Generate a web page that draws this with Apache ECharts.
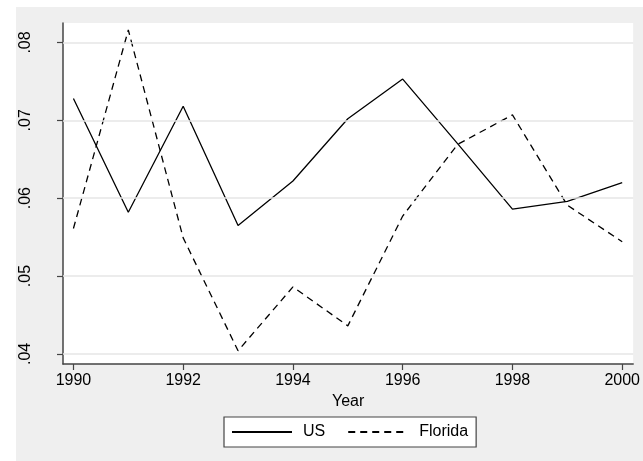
<!DOCTYPE html>
<html>
<head>
<meta charset="utf-8">
<script src="https://cdn.jsdelivr.net/npm/echarts@6/dist/echarts.min.js"></script>
<style>
  html, body { margin: 0; padding: 0; background: #fff; }
  #chart { width: 643px; height: 461px; }
</style>
</head>
<body>
<div id="chart"></div>
<script>
// Annual rates, 1990-2000
const years = [1990, 1991, 1992, 1993, 1994, 1995, 1996, 1997, 1998, 1999, 2000];
const usRate = [0.0728, 0.0582, 0.0718, 0.0565, 0.0622, 0.0702, 0.0753, 0.0670, 0.0586, 0.0596, 0.0620];
const floridaRate = [0.0561, 0.0816, 0.0549, 0.0404, 0.0486, 0.0436, 0.0577, 0.0669, 0.0707, 0.0591, 0.0544];
const xTicks = [1990, 1992, 1994, 1996, 1998, 2000];
const yTicks = [0.04, 0.05, 0.06, 0.07, 0.08];

const FONT = '"Liberation Sans", Arial, sans-serif';
const pairs = (ys) => years.map((y, i) => [y, ys[i]]);

const chart = echarts.init(document.getElementById('chart'), null, { renderer: 'canvas' });

chart.setOption({
  animation: false,
  backgroundColor: '#ffffff',
  textStyle: { fontFamily: FONT },
  graphic: [{
    type: 'rect',
    z: -10,
    silent: true,
    shape: { x: 16, y: 7, width: 640, height: 470 },
    style: { fill: '#efefef' }
  }],
  grid: {
    left: 63, right: 8, top: 23, bottom: 97,
    show: true, backgroundColor: '#ffffff', borderWidth: 0
  },
  xAxis: {
    type: 'value',
    min: 1989.81, max: 2000.2,
    name: 'Year',
    nameLocation: 'middle',
    nameGap: 26,
    nameTextStyle: { color: '#000', fontSize: 16, fontFamily: FONT },
    axisLine: { show: true, onZero: false, lineStyle: { color: '#444', width: 1.5 } },
    axisTick: { show: true, length: 6, customValues: xTicks, lineStyle: { color: '#444', width: 1.2 } },
    axisLabel: {
      customValues: xTicks, color: '#000', fontSize: 16, fontFamily: FONT, margin: 9,
      formatter: (v) => String(Math.round(v))
    },
    splitLine: { show: false }
  },
  yAxis: {
    type: 'value',
    min: 0.0387, max: 0.0825,
    axisLine: { show: true, onZero: false, lineStyle: { color: '#444', width: 1.5 } },
    axisTick: { show: true, length: 6, customValues: yTicks, lineStyle: { color: '#444', width: 1.2 } },
    axisLabel: {
      customValues: yTicks,
      rotate: 90,
      color: '#000', fontSize: 16, fontFamily: FONT, margin: 29,
      formatter: (v) => v.toFixed(2).replace(/^0/, '')
    },
    splitLine: { show: false }
  },
  legend: {
    data: ['US', 'Florida'],
    left: 224, top: 417,
    padding: [7, 8, 7, 7],
    itemGap: 22,
    itemWidth: 60, itemHeight: 14,
    itemStyle: { opacity: 0, borderWidth: 0 },
    backgroundColor: '#ffffff',
    borderColor: '#444', borderWidth: 1.2,
    textStyle: { color: '#000', fontSize: 16, fontFamily: FONT, padding: [0, 0, 0, 6] }
  },
  series: [
    {
      name: 'grid',
      type: 'line',
      data: [],
      silent: true,
      z: 1,
      markLine: {
        silent: true,
        symbol: 'none',
        label: { show: false },
        lineStyle: { color: '#e6e6e6', width: 1.5, type: 'solid' },
        data: yTicks.map((v) => ({ yAxis: v }))
      }
    },
    {
      name: 'US',
      type: 'line',
      data: pairs(usRate),
      symbol: 'none',
      z: 3,
      lineStyle: { color: '#000', width: 1.3, type: 'solid' },
      itemStyle: { color: '#000' }
    },
    {
      name: 'Florida',
      type: 'line',
      data: pairs(floridaRate),
      symbol: 'none',
      z: 3,
      lineStyle: { color: '#000', width: 1.3, type: [7, 5] },
      itemStyle: { color: '#000' }
    }
  ]
});
</script>
</body>
</html>
